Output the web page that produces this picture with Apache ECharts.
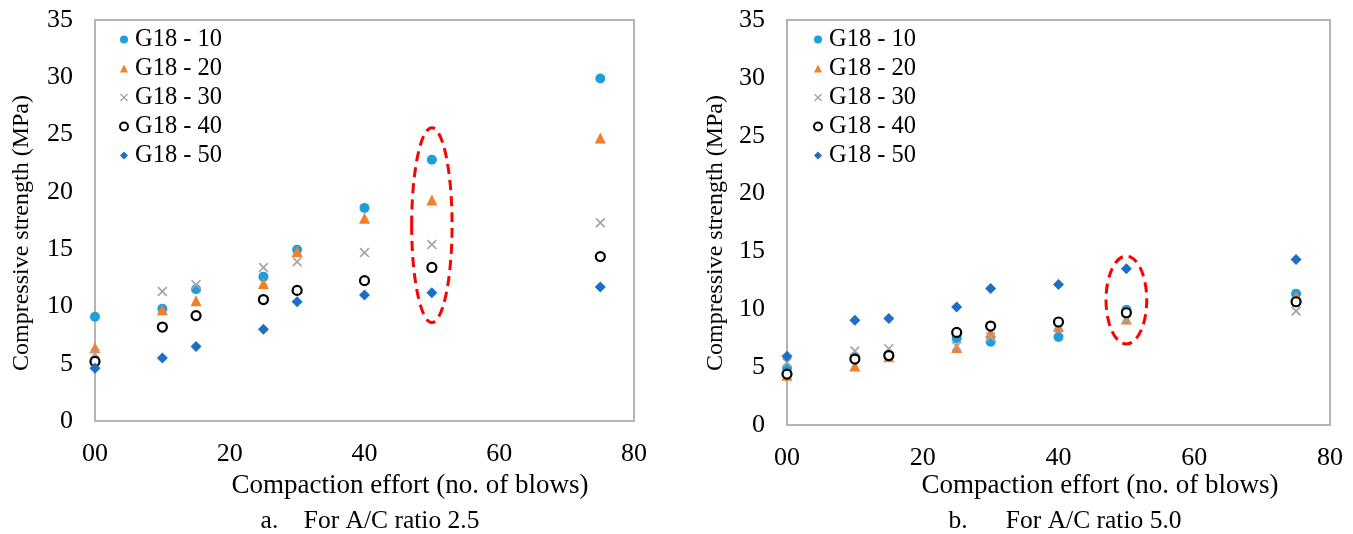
<!DOCTYPE html>
<html>
<head>
<meta charset="utf-8">
<script src="https://cdn.jsdelivr.net/npm/echarts@6/dist/echarts.min.js"></script>
<style>
  html, body { margin: 0; padding: 0; background: #fff; }
  #chart { width: 1353px; height: 534px; }
</style>
</head>
<body>
<div id="chart"></div>
<script>
// Compaction effort (number of blows) shared by both panels
const blows = [0, 10, 15, 25, 30, 40, 50, 75];

// Compressive strength (MPa), A/C ratio 2.5
const g10_ac25 = [9.1, 9.8, 11.5, 12.6, 14.95, 18.6, 22.8, 29.9];
const g20_ac25 = [6.4, 9.7, 10.5, 12.0, 14.8, 17.7, 19.3, 24.7];
const g30_ac25 = [5.9, 11.3, 11.9, 13.4, 13.9, 14.7, 15.4, 17.3];
const g40_ac25 = [5.2, 8.2, 9.2, 10.6, 11.4, 12.25, 13.4, 14.35];
const g50_ac25 = [4.6, 5.5, 6.5, 8.0, 10.4, 11.0, 11.2, 11.7];

// Compressive strength (MPa), A/C ratio 5.0
const g10_ac50 = [4.9, 5.9, 6.1, 7.5, 7.2, 7.6, 9.95, 11.35];
const g20_ac50 = [4.3, 5.1, 5.9, 6.7, 8.0, 8.5, 9.15, 11.1];
const g30_ac50 = [5.4, 6.4, 6.6, 6.8, 7.6, 8.6, 9.1, 9.85];
const g40_ac50 = [4.4, 5.7, 6.0, 8.0, 8.55, 8.9, 9.7, 10.65];
const g50_ac50 = [5.95, 9.05, 9.2, 10.2, 11.8, 12.15, 13.5, 14.3];

const seriesNames = ['G18 - 10', 'G18 - 20', 'G18 - 30', 'G18 - 40', 'G18 - 50'];
const xTicks = [0, 20, 40, 60, 80];
const yTicks = [0, 5, 10, 15, 20, 25, 30, 35];

// Highlighted group at 50 blows: [centre x, centre y, half-width, half-height]
const highlight_ac25 = [50, 17.1, 3, 8.5];
const highlight_ac50 = [50, 10.8, 3, 3.8];

const FONT = '"Liberation Serif", "Times New Roman", serif';
const AXIS_GREY = '#B4B4B4';

const crossPath = 'path://M1.2,0 L5,3.8 L8.8,0 L10,1.2 L6.2,5 L10,8.8 L8.8,10 L5,6.2 L1.2,10 L0,8.8 L3.8,5 L0,1.2 Z';

const styles = [
  { symbol: 'circle',   size: 10, itemStyle: { color: '#1E9FDC', opacity: 1 } },
  { symbol: 'triangle', size: 11, itemStyle: { color: '#F57F29', opacity: 1 } },
  { symbol: crossPath,  size: 10, itemStyle: { color: '#A5A5A5', opacity: 1 } },
  { symbol: 'circle',   size: 9,  itemStyle: { color: '#FFFFFF', borderColor: '#000000', borderWidth: 2.2, opacity: 1 } },
  { symbol: 'diamond',  size: 11, itemStyle: { color: '#1C6FC6', opacity: 1 } }
];

function pairs(ys) { return blows.map((b, i) => [b, ys[i]]); }

function scatterSet(values, gridIdx) {
  return values.map((ys, k) => ({
    name: seriesNames[k],
    type: 'scatter',
    xAxisIndex: gridIdx,
    yAxisIndex: gridIdx,
    symbol: styles[k].symbol,
    symbolSize: styles[k].size,
    itemStyle: styles[k].itemStyle,
    data: pairs(ys),
    z: 3 + k
  }));
}

function ellipseSeries(spec, gridIdx) {
  return {
    type: 'custom',
    xAxisIndex: gridIdx,
    yAxisIndex: gridIdx,
    silent: true,
    z: 20,
    data: [spec],
    renderItem: function (params, api) {
      const cx = api.value(0), cy = api.value(1), hx = api.value(2), hy = api.value(3);
      const c = api.coord([cx, cy]);
      const tl = api.coord([cx - hx, cy + hy]);
      const rx = Math.abs(c[0] - tl[0]);
      const ry = Math.abs(c[1] - tl[1]);
      const d = 'M' + (c[0] - rx) + ',' + c[1] +
                ' A' + rx + ',' + ry + ' 0 1,0 ' + (c[0] + rx) + ',' + c[1] +
                ' A' + rx + ',' + ry + ' 0 1,0 ' + (c[0] - rx) + ',' + c[1] + ' Z';
      return {
        type: 'path',
        shape: { pathData: d },
        style: { fill: 'none', stroke: '#FF0000', lineWidth: 3, lineDash: [10, 6] }
      };
    }
  };
}

function xAxisDef(gridIdx) {
  return {
    type: 'value', gridIndex: gridIdx,
    min: xTicks[0], max: xTicks[xTicks.length - 1], interval: 20,
    axisLine: { show: false }, axisTick: { show: false }, splitLine: { show: false },
    axisLabel: {
      margin: 20, color: '#000', fontFamily: FONT, fontSize: 26,
      formatter: v => (v === 0 ? '00' : String(v))
    }
  };
}

function yAxisDef(gridIdx) {
  return {
    type: 'value', gridIndex: gridIdx,
    min: yTicks[0], max: yTicks[yTicks.length - 1], interval: 5,
    axisLine: { show: false }, axisTick: { show: false }, splitLine: { show: false },
    axisLabel: { margin: 22, color: '#000', fontFamily: FONT, fontSize: 26 }
  };
}

function legendDef(left) {
  return {
    data: seriesNames,
    orient: 'vertical',
    left: left, top: 22,
    itemWidth: 8, itemHeight: 8,
    itemGap: 4,
    textStyle: { fontFamily: FONT, fontSize: 24.5, color: '#000', lineHeight: 24, padding: [0, 0, 0, 2] },
    selectedMode: false
  };
}

function label(text, x, y, rotate, size) {
  return {
    type: 'text', x: x, y: y, rotation: rotate || 0,
    style: {
      text: text, fontFamily: FONT, fontSize: size || 25, fill: '#000',
      align: 'center', verticalAlign: 'middle'
    }
  };
}

const chart = echarts.init(document.getElementById('chart'), null, { renderer: 'canvas' });

chart.setOption({
  animation: false,
  backgroundColor: '#fff',
  grid: [
    { left: 95, top: 20, width: 539, height: 401, show: true, borderColor: AXIS_GREY, borderWidth: 2, backgroundColor: 'transparent' },
    { left: 787, top: 20, width: 543, height: 405, show: true, borderColor: AXIS_GREY, borderWidth: 2, backgroundColor: 'transparent' }
  ],
  xAxis: [xAxisDef(0), xAxisDef(1)],
  yAxis: [yAxisDef(0), yAxisDef(1)],
  legend: [legendDef(114), legendDef(808)],
  series: [
    ...scatterSet([g10_ac25, g20_ac25, g30_ac25, g40_ac25, g50_ac25], 0),
    ...scatterSet([g10_ac50, g20_ac50, g30_ac50, g40_ac50, g50_ac50], 1),
    ellipseSeries(highlight_ac25, 0),
    ellipseSeries(highlight_ac50, 1)
  ],
  graphic: [
    label('Compressive strength (MPa)', 22, 233, Math.PI / 2, 24),
    label('Compressive strength (MPa)', 716, 233, Math.PI / 2, 24),
    label('Compaction effort (no. of blows)', 410, 486, 0, 27),
    label('Compaction effort (no. of blows)', 1100, 486, 0, 27),
    label('a.    For A/C ratio 2.5', 370, 521, 0, 25.5),
    label('b.      For A/C ratio 5.0', 1065, 521, 0, 25.5)
  ]
});
</script>
</body>
</html>
